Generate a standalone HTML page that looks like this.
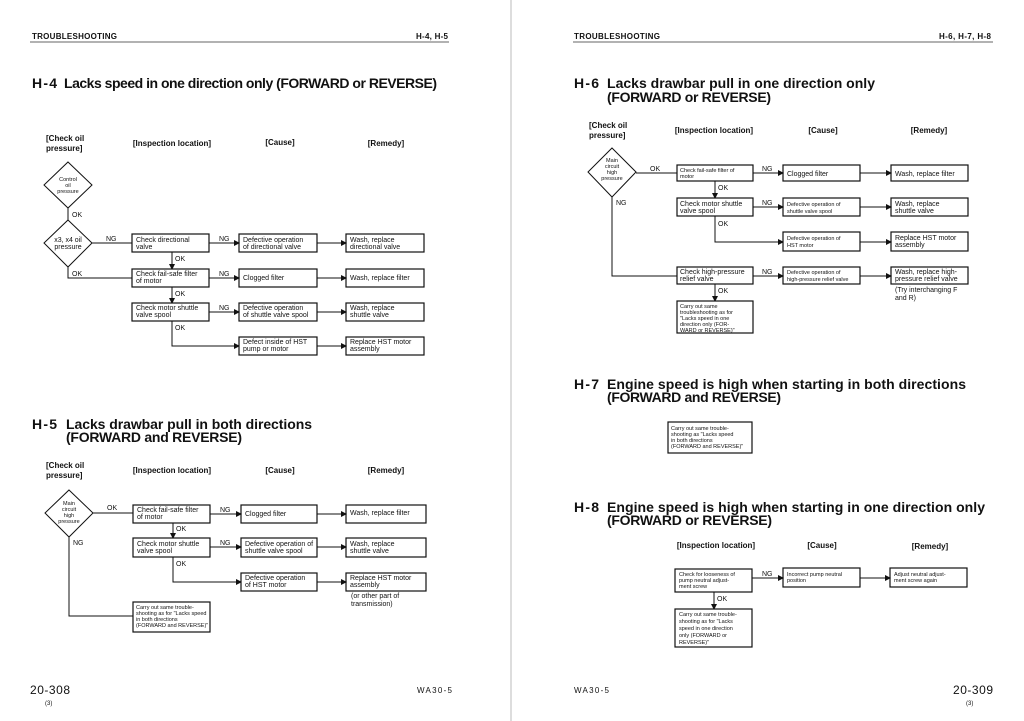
<!DOCTYPE html>
<html><head><meta charset="utf-8"><style>
html,body{margin:0;padding:0;background:#fff}
svg{display:block}
text{font-family:"Liberation Sans",sans-serif;fill:#111}
.t{font-size:14px;font-weight:bold}
.h{font-size:8px;font-weight:bold}
.s{font-size:7px}
.xs{font-size:5.5px}
.l{font-size:7px}
rect{fill:#fff;stroke:#111;stroke-width:1.2}
.ln{stroke:#111;stroke-width:1;fill:none}
</style></head><body>
<svg width="1024" height="721" viewBox="0 0 1024 721" xmlns="http://www.w3.org/2000/svg">
<defs><marker id="a" markerWidth="6" markerHeight="6" refX="5" refY="3" orient="auto" markerUnits="userSpaceOnUse"><path d="M0,0 L6,3 L0,6 z" fill="#111"/></marker></defs>
<line x1="511" y1="0" x2="511" y2="721" stroke="#bbb" stroke-width="1"/>
<!-- headers -->
<text x="32" y="39" class="h" textLength="85">TROUBLESHOOTING</text>
<text x="416" y="39" class="h" textLength="32">H-4, H-5</text>
<line x1="30" y1="42" x2="449" y2="42" stroke="#333" stroke-width="0.8"/>
<text x="574" y="39" class="h" textLength="86">TROUBLESHOOTING</text>
<text x="939" y="39" class="h" textLength="52">H-6, H-7, H-8</text>
<line x1="573" y1="42" x2="993" y2="42" stroke="#333" stroke-width="0.8"/>
<!-- footers -->
<text x="30" y="694" font-size="12" textLength="40">20-308</text>
<text x="45" y="705" font-size="6">(3)</text>
<text x="417" y="693" font-size="8" textLength="35">WA30-5</text>
<text x="574" y="693" font-size="8" textLength="35">WA30-5</text>
<text x="953" y="694" font-size="12" textLength="40">20-309</text>
<text x="966" y="705" font-size="6">(3)</text>

<!-- H-4 -->
<text x="32" y="88" class="t" textLength="25">H-4</text>
<text x="64" y="88" class="t" textLength="373">Lacks speed in one direction only (FORWARD or REVERSE)</text>
<text x="46" y="141" class="h">[Check oil</text><text x="46" y="151" class="h">pressure]</text>
<text x="172" y="146" class="h" text-anchor="middle">[Inspection location]</text>
<text x="280" y="145" class="h" text-anchor="middle">[Cause]</text>
<text x="386" y="146" class="h" text-anchor="middle">[Remedy]</text>
<polygon points="68,162 92,185 68,208 44,185" fill="#fff" stroke="#111"/>
<text x="68" y="181" class="xs" text-anchor="middle">Control</text><text x="68" y="187" class="xs" text-anchor="middle">oil</text><text x="68" y="193" class="xs" text-anchor="middle">pressure</text>
<line class="ln" x1="68" y1="208" x2="68" y2="220"/>
<text x="72" y="217" class="l">OK</text>
<polygon points="68,220 92,243 68,267 44,243" fill="#fff" stroke="#111"/>
<text x="68" y="242" class="s" text-anchor="middle">x3, x4 oil</text><text x="68" y="249" class="s" text-anchor="middle">pressure</text>
<line class="ln" x1="92" y1="243" x2="132" y2="243"/><text x="106" y="241" class="l">NG</text>
<polyline class="ln" points="68,267 68,278 132,278"/><text x="72" y="276" class="l">OK</text>
<rect x="132" y="234" width="77" height="18"/><text x="136" y="242" class="s">Check directional</text><text x="136" y="249" class="s">valve</text>
<rect x="239" y="234" width="78" height="18"/><text x="243" y="242" class="s">Defective operation</text><text x="243" y="249" class="s">of directional valve</text>
<rect x="346" y="234" width="78" height="18"/><text x="350" y="242" class="s">Wash, replace</text><text x="350" y="249" class="s">directional valve</text>
<line class="ln" x1="209" y1="243" x2="239" y2="243" marker-end="url(#a)"/><text x="219" y="241" class="l">NG</text>
<line class="ln" x1="317" y1="243" x2="346" y2="243" marker-end="url(#a)"/>
<line class="ln" x1="172" y1="252" x2="172" y2="269" marker-end="url(#a)"/><text x="175" y="261" class="l">OK</text>
<rect x="132" y="269" width="77" height="18"/><text x="136" y="276" class="s">Check fail-safe filter</text><text x="136" y="283" class="s">of motor</text>
<rect x="239" y="269" width="78" height="18"/><text x="243" y="280" class="s">Clogged filter</text>
<rect x="346" y="269" width="78" height="18"/><text x="350" y="280" class="s">Wash, replace filter</text>
<line class="ln" x1="209" y1="278" x2="239" y2="278" marker-end="url(#a)"/><text x="219" y="276" class="l">NG</text>
<line class="ln" x1="317" y1="278" x2="346" y2="278" marker-end="url(#a)"/>
<line class="ln" x1="172" y1="287" x2="172" y2="303" marker-end="url(#a)"/><text x="175" y="296" class="l">OK</text>
<rect x="132" y="303" width="77" height="18"/><text x="136" y="310" class="s">Check motor shuttle</text><text x="136" y="317" class="s">valve spool</text>
<rect x="239" y="303" width="78" height="18"/><text x="243" y="310" class="s">Defective operation</text><text x="243" y="317" class="s">of shuttle valve spool</text>
<rect x="346" y="303" width="78" height="18"/><text x="350" y="310" class="s">Wash, replace</text><text x="350" y="317" class="s">shuttle valve</text>
<line class="ln" x1="209" y1="312" x2="239" y2="312" marker-end="url(#a)"/><text x="219" y="310" class="l">NG</text>
<line class="ln" x1="317" y1="312" x2="346" y2="312" marker-end="url(#a)"/>
<polyline class="ln" points="172,321 172,346 239,346" marker-end="url(#a)"/><text x="175" y="330" class="l">OK</text>
<rect x="239" y="337" width="78" height="18"/><text x="243" y="344" class="s">Defect inside of HST</text><text x="243" y="351" class="s">pump or motor</text>
<rect x="346" y="337" width="78" height="18"/><text x="350" y="344" class="s">Replace HST motor</text><text x="350" y="351" class="s">assembly</text>
<line class="ln" x1="317" y1="346" x2="346" y2="346" marker-end="url(#a)"/>

<!-- H-5 -->
<text x="32" y="429" class="t" textLength="25">H-5</text>
<text x="66" y="429" class="t" textLength="246">Lacks drawbar pull in both directions</text>
<text x="66" y="442" class="t" textLength="176">(FORWARD and REVERSE)</text>
<text x="46" y="468" class="h">[Check oil</text><text x="46" y="478" class="h">pressure]</text>
<text x="172" y="473" class="h" text-anchor="middle">[Inspection location]</text>
<text x="280" y="473" class="h" text-anchor="middle">[Cause]</text>
<text x="386" y="473" class="h" text-anchor="middle">[Remedy]</text>
<polygon points="69,490 93,513 69,537 45,513" fill="#fff" stroke="#111"/>
<text x="69" y="505" class="xs" text-anchor="middle">Main</text><text x="69" y="511" class="xs" text-anchor="middle">circuit</text><text x="69" y="517" class="xs" text-anchor="middle">high</text><text x="69" y="523" class="xs" text-anchor="middle">pressure</text>
<line class="ln" x1="93" y1="513" x2="133" y2="513"/><text x="107" y="510" class="l">OK</text>
<polyline class="ln" points="69,537 69,616 133,616"/><text x="73" y="545" class="l">NG</text>
<rect x="133" y="505" width="77" height="18"/><text x="137" y="512" class="s">Check fail-safe filter</text><text x="137" y="519" class="s">of motor</text>
<rect x="241" y="505" width="76" height="18"/><text x="245" y="516" class="s">Clogged filter</text>
<rect x="346" y="505" width="80" height="18"/><text x="350" y="515" class="s">Wash, replace filter</text>
<line class="ln" x1="210" y1="514" x2="241" y2="514" marker-end="url(#a)"/><text x="220" y="512" class="l">NG</text>
<line class="ln" x1="317" y1="514" x2="346" y2="514" marker-end="url(#a)"/>
<line class="ln" x1="173" y1="523" x2="173" y2="538" marker-end="url(#a)"/><text x="176" y="531" class="l">OK</text>
<rect x="133" y="538" width="77" height="19"/><text x="137" y="546" class="s">Check motor shuttle</text><text x="137" y="553" class="s">valve spool</text>
<rect x="241" y="538" width="76" height="19"/><text x="245" y="546" class="s">Defective operation of</text><text x="245" y="553" class="s">shuttle valve spool</text>
<rect x="346" y="538" width="80" height="19"/><text x="350" y="546" class="s">Wash, replace</text><text x="350" y="553" class="s">shuttle valve</text>
<line class="ln" x1="210" y1="547" x2="241" y2="547" marker-end="url(#a)"/><text x="220" y="545" class="l">NG</text>
<line class="ln" x1="317" y1="547" x2="346" y2="547" marker-end="url(#a)"/>
<polyline class="ln" points="173,557 173,582 241,582" marker-end="url(#a)"/><text x="176" y="566" class="l">OK</text>
<rect x="241" y="573" width="76" height="18"/><text x="245" y="580" class="s">Defective operation</text><text x="245" y="587" class="s">of HST motor</text>
<rect x="346" y="573" width="80" height="18"/><text x="350" y="580" class="s">Replace HST motor</text><text x="350" y="587" class="s">assembly</text>
<line class="ln" x1="317" y1="582" x2="346" y2="582" marker-end="url(#a)"/>
<text x="351" y="598" class="s">(or other part of</text><text x="351" y="606" class="s">transmission)</text>
<rect x="133" y="602" width="77" height="30"/>
<text x="136" y="609" class="xs">Carry out same trouble-</text><text x="136" y="615" class="xs">shooting as for "Lacks speed</text><text x="136" y="621" class="xs">in both directions</text><text x="136" y="627" class="xs">(FORWARD and REVERSE)"</text>

<!-- H-6 -->
<text x="574" y="88" class="t" textLength="25">H-6</text>
<text x="607" y="88" class="t" textLength="268">Lacks drawbar pull in one direction only</text>
<text x="607" y="102" class="t" textLength="164">(FORWARD or REVERSE)</text>
<text x="589" y="128" class="h">[Check oil</text><text x="589" y="138" class="h">pressure]</text>
<text x="714" y="133" class="h" text-anchor="middle">[Inspection location]</text>
<text x="823" y="133" class="h" text-anchor="middle">[Cause]</text>
<text x="929" y="133" class="h" text-anchor="middle">[Remedy]</text>
<polygon points="612,148 636,172 612,197 588,172" fill="#fff" stroke="#111"/>
<text x="612" y="162" class="xs" text-anchor="middle">Main</text><text x="612" y="168" class="xs" text-anchor="middle">circuit</text><text x="612" y="174" class="xs" text-anchor="middle">high</text><text x="612" y="180" class="xs" text-anchor="middle">pressure</text>
<line class="ln" x1="636" y1="173" x2="677" y2="173"/><text x="650" y="171" class="l">OK</text>
<polyline class="ln" points="612,197 612,276 677,276"/><text x="616" y="205" class="l">NG</text>
<rect x="677" y="165" width="76" height="16"/><text x="680" y="172" class="xs">Check fail-safe filter of</text><text x="680" y="178" class="xs">motor</text>
<rect x="783" y="165" width="77" height="16"/><text x="787" y="176" class="s">Clogged filter</text>
<rect x="891" y="165" width="77" height="16"/><text x="895" y="176" class="s">Wash, replace filter</text>
<line class="ln" x1="753" y1="173" x2="783" y2="173" marker-end="url(#a)"/><text x="762" y="171" class="l">NG</text>
<line class="ln" x1="860" y1="173" x2="891" y2="173" marker-end="url(#a)"/>
<line class="ln" x1="715" y1="181" x2="715" y2="198" marker-end="url(#a)"/><text x="718" y="190" class="l">OK</text>
<rect x="677" y="198" width="76" height="18"/><text x="680" y="206" class="s">Check motor shuttle</text><text x="680" y="213" class="s">valve spool</text>
<rect x="783" y="198" width="77" height="18"/><text x="787" y="206" class="xs">Defective operation of</text><text x="787" y="213" class="xs">shuttle valve spool</text>
<rect x="891" y="198" width="77" height="18"/><text x="895" y="206" class="s">Wash, replace</text><text x="895" y="213" class="s">shuttle valve</text>
<line class="ln" x1="753" y1="207" x2="783" y2="207" marker-end="url(#a)"/><text x="762" y="205" class="l">NG</text>
<line class="ln" x1="860" y1="207" x2="891" y2="207" marker-end="url(#a)"/>
<polyline class="ln" points="715,216 715,242 783,242" marker-end="url(#a)"/><text x="718" y="226" class="l">OK</text>
<rect x="783" y="232" width="77" height="19"/><text x="787" y="240" class="xs">Defective operation of</text><text x="787" y="247" class="xs">HST motor</text>
<rect x="891" y="232" width="77" height="19"/><text x="895" y="240" class="s">Replace HST motor</text><text x="895" y="247" class="s">assembly</text>
<line class="ln" x1="860" y1="242" x2="891" y2="242" marker-end="url(#a)"/>
<rect x="677" y="267" width="76" height="17"/><text x="680" y="274" class="s">Check high-pressure</text><text x="680" y="281" class="s">relief valve</text>
<rect x="783" y="267" width="77" height="17"/><text x="787" y="274" class="xs">Defective operation of</text><text x="787" y="281" class="xs">high-pressure relief valve</text>
<rect x="891" y="267" width="77" height="17"/><text x="895" y="274" class="s">Wash, replace high-</text><text x="895" y="281" class="s">pressure relief valve</text>
<line class="ln" x1="753" y1="276" x2="783" y2="276" marker-end="url(#a)"/><text x="762" y="274" class="l">NG</text>
<line class="ln" x1="860" y1="276" x2="891" y2="276" marker-end="url(#a)"/>
<text x="895" y="292" class="s">(Try interchanging F</text><text x="895" y="300" class="s">and R)</text>
<line class="ln" x1="715" y1="284" x2="715" y2="301" marker-end="url(#a)"/><text x="718" y="293" class="l">OK</text>
<rect x="677" y="301" width="76" height="32"/>
<text x="680" y="308" class="xs">Carry out same</text><text x="680" y="314" class="xs">troubleshooting as for</text><text x="680" y="320" class="xs">"Lacks speed in one</text><text x="680" y="326" class="xs">direction only (FOR-</text><text x="680" y="332" class="xs">WARD or REVERSE)"</text>

<!-- H-7 -->
<text x="574" y="389" class="t" textLength="25">H-7</text>
<text x="607" y="389" class="t" textLength="359">Engine speed is high when starting in both directions</text>
<text x="607" y="402" class="t" textLength="174">(FORWARD and REVERSE)</text>
<rect x="668" y="422" width="84" height="31"/>
<text x="671" y="430" class="xs">Carry out same trouble-</text><text x="671" y="436" class="xs">shooting as "Lacks speed</text><text x="671" y="442" class="xs">in both directions</text><text x="671" y="448" class="xs">(FORWARD and REVERSE)"</text>

<!-- H-8 -->
<text x="574" y="512" class="t" textLength="25">H-8</text>
<text x="607" y="512" class="t" textLength="378">Engine speed is high when starting in one direction only</text>
<text x="607" y="525" class="t" textLength="165">(FORWARD or REVERSE)</text>
<text x="716" y="548" class="h" text-anchor="middle">[Inspection location]</text>
<text x="822" y="548" class="h" text-anchor="middle">[Cause]</text>
<text x="930" y="549" class="h" text-anchor="middle">[Remedy]</text>
<rect x="675" y="569" width="77" height="23"/><text x="679" y="576" class="xs">Check for looseness of</text><text x="679" y="582" class="xs">pump neutral adjust-</text><text x="679" y="588" class="xs">ment screw</text>
<rect x="783" y="568" width="77" height="19"/><text x="787" y="576" class="xs">Incorrect pump neutral</text><text x="787" y="582" class="xs">position</text>
<rect x="890" y="568" width="77" height="19"/><text x="894" y="576" class="xs">Adjust neutral adjust-</text><text x="894" y="582" class="xs">ment screw again</text>
<line class="ln" x1="752" y1="578" x2="783" y2="578" marker-end="url(#a)"/><text x="762" y="576" class="l">NG</text>
<line class="ln" x1="860" y1="578" x2="890" y2="578" marker-end="url(#a)"/>
<line class="ln" x1="714" y1="592" x2="714" y2="609" marker-end="url(#a)"/><text x="717" y="601" class="l">OK</text>
<rect x="675" y="609" width="77" height="38"/>
<text x="679" y="616" class="xs">Carry out same trouble-</text><text x="679" y="623" class="xs">shooting as for "Lacks</text><text x="679" y="630" class="xs">speed in one direction</text><text x="679" y="637" class="xs">only (FORWARD or</text><text x="679" y="644" class="xs">REVERSE)"</text>
</svg>
</body></html>
